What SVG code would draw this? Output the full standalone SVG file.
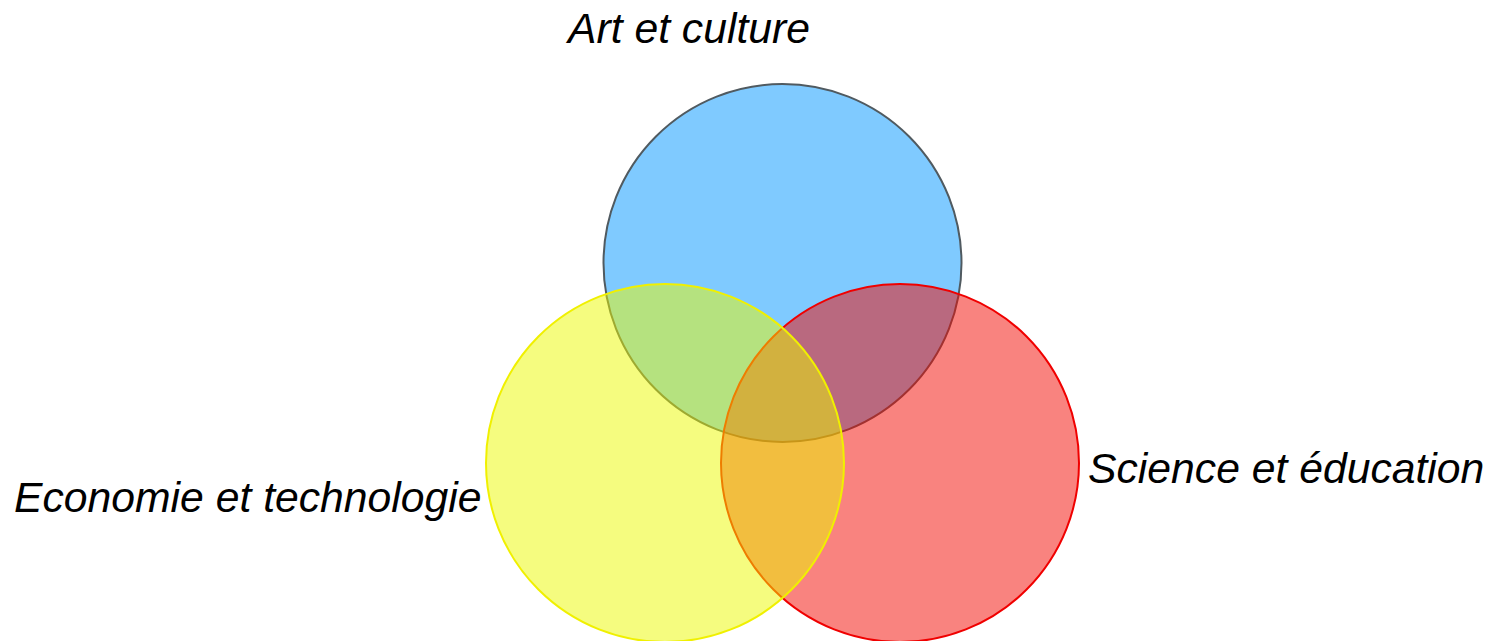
<svg xmlns="http://www.w3.org/2000/svg" width="1497" height="641" viewBox="0 0 1497 641">
<style>
.lbl{font-family:"Liberation Sans",Arial,sans-serif;font-style:italic;font-size:42.7px;fill:#000}
.c{stroke-width:2}
</style>
<rect width="1497" height="641" fill="#fff"/>
<g id="art">
<circle class="c" cx="782.5" cy="263" r="179" fill="rgb(0,149,255)" fill-opacity="0.5" stroke="#505a60"/>
<text class="lbl" x="568" y="43">Art et culture</text>
</g>
<g id="science">
<circle class="c" cx="900" cy="463" r="179" fill="rgb(243,8,0)" fill-opacity="0.5" stroke="#f00000"/>
<text class="lbl" x="1088" y="483">Science et éducation</text>
</g>
<g id="economie">
<circle class="c" cx="665" cy="463" r="179" fill="rgb(236,249,0)" fill-opacity="0.5" stroke="#f0f000"/>
<text class="lbl" x="14" y="512">Economie et technologie</text>
</g>
<g id="connectors"></g>
</svg>
